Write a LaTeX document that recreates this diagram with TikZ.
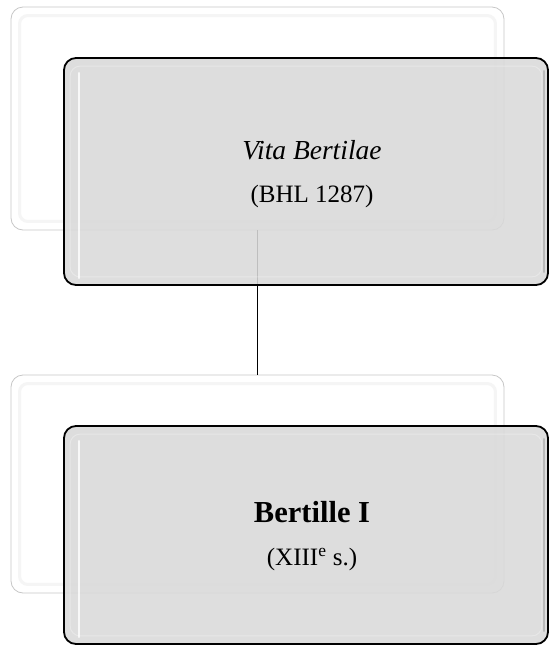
\documentclass[tikz,border=0pt]{standalone}
\usepackage{fontspec}
\setmainfont{Liberation Serif}
\usepackage{tikz}
\begin{document}
\begin{tikzpicture}[x=1pt,y=-1pt,
backbox/.style={draw=black!22,line width=0.8pt,fill=white,rounded corners=12pt,minimum width=493pt,inner sep=0pt},
frontbox/.style={draw=black,line width=1.8pt,fill=black!15,fill opacity=0.88,rounded corners=12pt,minimum width=484pt,inner sep=0pt},
caption/.style={align=center,font=\fontsize{25}{43}\selectfont,text=black,inner sep=0pt}]
\useasboundingbox(0,0)rectangle(550,646);
\node[backbox,minimum height=223pt](back1)at(257.5,118.5){};
\node[backbox,minimum height=218pt](back2)at(257.5,484){};
\foreach \b in {back1,back2}{
\draw[black!4,line width=3pt,rounded corners=8pt]([shift={(9,9)}]\b.north west)rectangle([shift={(-9,-9)}]\b.south east);
}
\draw[line width=1.8pt](back1.south)--(back2.north);
\node[frontbox,minimum height=227pt](front1)at(306,171.5){};
\node[frontbox,minimum height=218pt](front2)at(306,535){};
\foreach \f in {front1,front2}{
\draw[white,line width=1pt,opacity=0.3,rounded corners=10pt]([shift={(7,9)}]\f.north west)rectangle([shift={(-7,-9)}]\f.south east);
\draw[white,line width=2.5pt,opacity=0.8,line cap=round]([shift={(16,16)}]\f.north west)--([shift={(16,-8)}]\f.south west);
\draw[black!40,line width=2.5pt,opacity=0.5,line cap=round]([shift={(-5,14)}]\f.north east)--([shift={(-5,-14)}]\f.south east);
}
\node[caption](title1)at([shift={(6,3)}]front1.center){{\fontsize{27.5}{43}\selectfont\textit{Vita Bertilae}}\\(BHL 1287)};
\node[caption](title2)at([shift={(6,1)}]front2.center){{\fontsize{30.5}{40}\selectfont\textbf{Bertille I}}\\(XIII\textsuperscript{e} s.)};
\end{tikzpicture}
\end{document}
